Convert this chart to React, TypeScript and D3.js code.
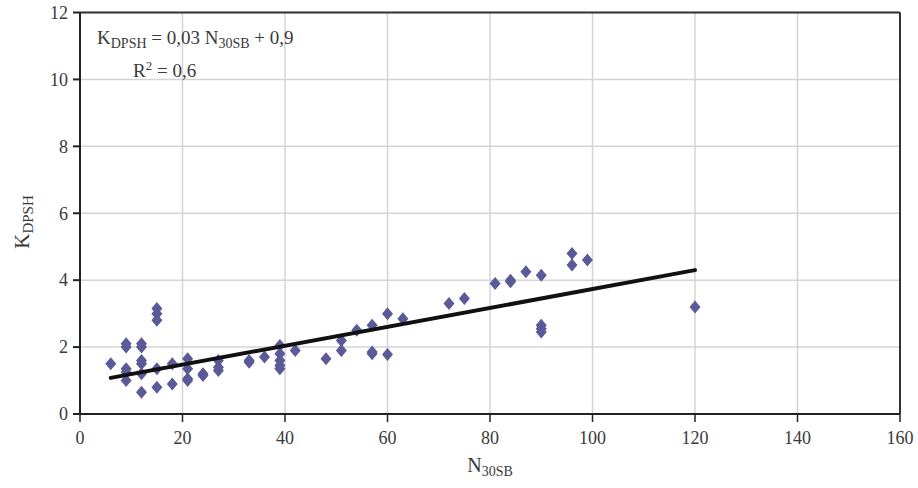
import React from "react";
import * as d3 from "d3";

const nValues = [6, 9, 9, 9, 9, 9, 12, 12, 12, 12, 12, 12, 15, 15, 15, 15, 15, 18, 18, 21, 21, 21, 21, 24, 24, 27, 27, 27, 33, 33, 36, 39, 39, 39, 39, 39, 42, 48, 51, 51, 54, 57, 57, 57, 60, 60, 63, 72, 75, 81, 84, 84, 87, 90, 90, 90, 90, 96, 96, 99, 120];
const kValues = [1.5, 2.1, 2.0, 1.35, 1.25, 1.0, 2.1, 2.0, 1.6, 1.5, 1.2, 0.65, 3.15, 3.0, 2.8, 1.35, 0.8, 1.5, 0.9, 1.65, 1.35, 1.05, 1.0, 1.2, 1.15, 1.6, 1.4, 1.3, 1.6, 1.55, 1.7, 2.05, 1.8, 1.6, 1.45, 1.35, 1.9, 1.65, 2.2, 1.9, 2.5, 2.65, 1.85, 1.8, 3.0, 1.78, 2.85, 3.3, 3.45, 3.9, 4.0, 3.95, 4.25, 4.15, 2.65, 2.55, 2.45, 4.8, 4.45, 4.6, 3.2];
const trendN = [6, 120];
const trendK = [1.08, 4.3];
const xTicks = [0, 20, 40, 60, 80, 100, 120, 140, 160];
const yTicks = [0, 2, 4, 6, 8, 10, 12];

const W = 918, H = 488;
const L = 80, R = 900, T = 12.5, B = 414;
const FONT = "'Liberation Serif', 'DejaVu Serif', serif";
const TXT = "#3a3a3a";

export default function App() {
  const x = d3.scaleLinear().domain([0, 160]).range([L, R]);
  const y = d3.scaleLinear().domain([0, 12]).range([B, T]);
  const diamond = d3.line()([[0, -6.5], [5.5, 0], [0, 6.5], [-5.5, 0]]) + "Z";
  const line = d3.line<number>().x((_, i) => x(trendN[i])).y((d) => y(d));
  const pts = nValues.map((n, i) => ({ n, k: kValues[i] }));
  return (
    <svg width={W} height={H} style={{ position: "absolute", left: 0, top: 0, background: "#fff" }}>
      {xTicks.filter((t) => t > 0).map((t) => (
        <line key={"gx" + t} x1={x(t)} x2={x(t)} y1={T} y2={B} stroke="#d4d4d4" strokeWidth={1.5} />
      ))}
      {yTicks.filter((t) => t > 0).map((t) => (
        <line key={"gy" + t} x1={L} x2={R} y1={y(t)} y2={y(t)} stroke="#d4d4d4" strokeWidth={1.5} />
      ))}
      <line x1={L} x2={R} y1={T} y2={T} stroke="#333" strokeWidth={2} />
      <line x1={R} x2={R} y1={T} y2={B} stroke="#333" strokeWidth={2} />
      <line x1={L} x2={L} y1={T} y2={B} stroke="#222" strokeWidth={2} />
      <line x1={L} x2={R} y1={B} y2={B} stroke="#222" strokeWidth={2} />
      {yTicks.map((t) => (
        <g key={"ty" + t}>
          <line x1={L - 7} x2={L} y1={y(t)} y2={y(t)} stroke="#222" strokeWidth={2} />
          <text x={L - 12} y={y(t)} dy="0.35em" textAnchor="end" fontFamily={FONT} fontSize={18} fill={TXT}>{t}</text>
        </g>
      ))}
      {xTicks.map((t) => (
        <g key={"tx" + t}>
          <line x1={x(t)} x2={x(t)} y1={B} y2={B + 8} stroke="#222" strokeWidth={1.5} />
          <text x={x(t)} y={B + 30} textAnchor="middle" fontFamily={FONT} fontSize={18} fill={TXT}>{t}</text>
        </g>
      ))}
      {pts.map((p, i) => (
        <path key={"p" + i} d={diamond} transform={`translate(${x(p.n)},${y(p.k)})`} fill="#5a5a98" />
      ))}
      <path d={line(trendK) || ""} fill="none" stroke="#111" strokeWidth={4} strokeLinecap="round" />
      <text x={97} y={44} fontFamily={FONT} fontSize={19} fill={TXT}>
        K<tspan fontSize={14} dy={4}>DPSH</tspan><tspan dy={-4}> = 0,03 N</tspan><tspan fontSize={14} dy={4}>30SB</tspan><tspan dy={-4}> + 0,9</tspan>
      </text>
      <text x={133} y={77} fontFamily={FONT} fontSize={19} fill={TXT}>
        R<tspan fontSize={13} dy={-7}>2</tspan><tspan dy={7}> = 0,6</tspan>
      </text>
      <text transform="translate(29,222) rotate(-90)" textAnchor="middle" fontFamily={FONT} fontSize={21} fill={TXT}>
        K<tspan fontSize={15} dy={4}>DPSH</tspan>
      </text>
      <text x={490} y={472} textAnchor="middle" fontFamily={FONT} fontSize={20} fill={TXT}>
        N<tspan fontSize={14} dy={4}>30SB</tspan>
      </text>
    </svg>
  );
}
